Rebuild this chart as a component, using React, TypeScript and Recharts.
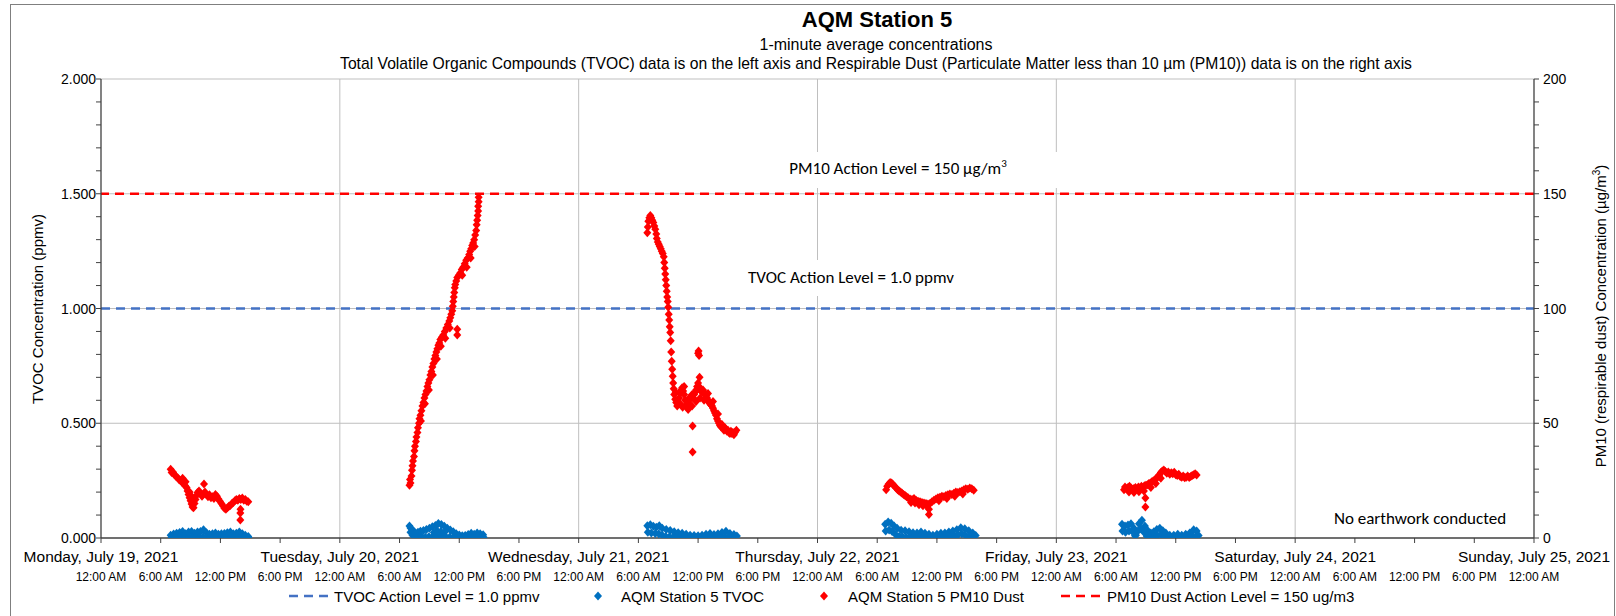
import React from 'react';
import { ScatterChart, Scatter, XAxis, YAxis, CartesianGrid, ReferenceLine } from 'recharts';

const FONT = '"Liberation Sans", Arial, sans-serif';
const CAL = 'Carlito, Lato, "Liberation Sans", sans-serif';

const chartTitle = 'AQM Station 5';
const subtitle1 = '1-minute average concentrations';
const subtitle2 = 'Total Volatile Organic Compounds (TVOC) data is on the left axis and Respirable Dust (Particulate Matter less than 10 µm (PM10)) data is on the right axis';

const dayLabels = [
  'Monday, July 19, 2021',
  'Tuesday, July 20, 2021',
  'Wednesday, July 21, 2021',
  'Thursday, July 22, 2021',
  'Friday, July 23, 2021',
  'Saturday, July 24, 2021',
  'Sunday, July 25, 2021',
];
const timeLabels = ['12:00 AM', '6:00 AM', '12:00 PM', '6:00 PM'];
const xTicks = [0, 6, 12, 18, 24, 30, 36, 42, 48, 54, 60, 66, 72, 78, 84, 90, 96, 102, 108, 114, 120, 126, 132, 138, 144];
const dayGrid = [24, 48, 72, 96, 120];
const leftTicks = [0, 0.1, 0.2, 0.3, 0.4, 0.5, 0.6, 0.7, 0.8, 0.9, 1.0, 1.1, 1.2, 1.3, 1.4, 1.5, 1.6, 1.7, 1.8, 1.9, 2.0];
const leftGrid = [0.5, 1.0, 1.5, 2.0];
const rightTicks = [0, 10, 20, 30, 40, 50, 60, 70, 80, 90, 100, 110, 120, 130, 140, 150, 160, 170, 180, 190, 200];

const tvocActionLevel = 1.0;
const pm10ActionLevel = 150;

// [hours since Monday 12:00 AM, TVOC ppmv]
const tvocMon: [number, number][] = [
  [7.0, 0.012], [7.3, 0.017], [7.6, 0.021], [7.9, 0.024], [8.2, 0.028], [8.5, 0.019], [8.8, 0.026], [9.1, 0.028],
  [9.4, 0.021], [9.7, 0.026], [10.0, 0.028], [10.3, 0.036], [10.6, 0.023], [10.9, 0.016], [11.2, 0.019], [11.5, 0.022],
  [11.8, 0.016], [12.1, 0.018], [12.4, 0.020], [12.7, 0.023], [13.0, 0.026], [13.3, 0.019], [13.6, 0.021], [13.9, 0.026],
  [14.2, 0.019], [14.5, 0.012], [14.8, 0.006],
  [7.1, 0.003], [7.45, 0.004], [7.8, 0.002], [8.15, 0.004], [8.5, 0.003], [8.85, 0.005], [9.2, 0.003], [9.55, 0.004],
  [9.9, 0.002], [10.25, 0.004], [10.6, 0.003], [10.95, 0.004], [11.3, 0.002], [11.65, 0.003], [12.0, 0.004], [12.35, 0.002],
  [12.7, 0.003], [13.05, 0.004], [13.4, 0.003], [13.75, 0.002], [14.1, 0.004], [14.45, 0.003], [14.8, 0.002],
];
const tvocTue: [number, number][] = [
  [31.0, 0.052], [31.1, 0.044], [31.25, 0.037], [31.4, 0.030], [31.6, 0.022], [31.85, 0.025], [32.1, 0.029], [32.4, 0.033],
  [32.7, 0.037], [33.0, 0.043], [33.3, 0.049], [33.6, 0.055], [33.9, 0.063], [34.2, 0.059], [34.5, 0.051], [34.8, 0.043],
  [35.1, 0.035], [35.4, 0.027], [35.7, 0.019], [36.0, 0.013], [36.3, 0.010], [36.6, 0.011], [36.9, 0.015], [37.2, 0.021],
  [37.5, 0.016], [37.8, 0.022], [38.1, 0.018], [38.4, 0.014],
  [31.1, 0.025], [31.3, 0.012], [31.55, 0.004], [31.9, 0.003], [32.25, 0.004], [32.6, 0.003], [32.95, 0.005], [33.3, 0.004],
  [33.65, 0.003], [34.0, 0.005], [34.35, 0.004], [34.7, 0.003], [35.05, 0.004], [35.4, 0.002], [35.75, 0.003], [36.1, 0.002],
  [36.45, 0.003], [36.8, 0.002], [37.15, 0.003], [37.5, 0.002], [37.85, 0.003], [38.2, 0.002], [38.45, 0.003],
  [33.45, 0.024], [33.8, 0.030], [34.15, 0.028], [34.5, 0.024],
];
const tvocWed: [number, number][] = [
  [54.9, 0.053], [55.2, 0.058], [55.5, 0.051], [55.8, 0.047], [56.1, 0.053], [56.4, 0.043], [56.8, 0.037], [57.2, 0.033],
  [57.6, 0.027], [58.0, 0.023], [58.4, 0.021], [58.8, 0.016], [59.2, 0.012], [59.6, 0.011], [60.0, 0.010], [60.4, 0.012],
  [60.8, 0.016], [61.2, 0.020], [61.6, 0.015], [62.0, 0.019], [62.4, 0.024], [62.8, 0.029], [63.2, 0.020], [63.6, 0.015],
  [63.9, 0.009],
  [54.95, 0.025], [55.3, 0.022], [55.7, 0.020], [56.05, 0.018], [56.4, 0.012], [56.75, 0.006], [57.1, 0.004], [57.45, 0.003],
  [57.8, 0.004], [58.15, 0.002], [58.5, 0.003], [58.85, 0.002], [59.2, 0.003], [59.55, 0.002], [59.9, 0.003], [60.25, 0.002],
  [60.6, 0.003], [60.95, 0.002], [61.3, 0.003], [61.65, 0.002], [62.0, 0.003], [62.35, 0.002], [62.7, 0.003], [63.05, 0.002],
  [63.4, 0.003], [63.75, 0.002],
];
const tvocThu: [number, number][] = [
  [78.8, 0.060], [79.1, 0.070], [79.4, 0.064], [79.7, 0.052], [80.0, 0.042], [80.4, 0.034], [80.8, 0.032], [81.2, 0.027],
  [81.6, 0.023], [82.0, 0.022], [82.4, 0.026], [82.8, 0.021], [83.2, 0.016], [83.6, 0.012], [84.0, 0.016], [84.4, 0.021],
  [84.8, 0.022], [85.2, 0.026], [85.6, 0.031], [86.0, 0.036], [86.4, 0.045], [86.8, 0.040], [87.2, 0.032], [87.6, 0.022],
  [87.9, 0.011],
  [78.85, 0.030], [79.2, 0.035], [79.5, 0.028], [79.85, 0.015], [80.2, 0.006], [80.55, 0.004], [80.9, 0.003], [81.25, 0.004],
  [81.6, 0.002], [81.95, 0.003], [82.3, 0.004], [82.65, 0.002], [83.0, 0.003], [83.35, 0.002], [83.7, 0.003], [84.05, 0.002],
  [84.4, 0.004], [84.75, 0.003], [85.1, 0.004], [85.45, 0.005], [85.8, 0.008], [86.15, 0.015], [86.5, 0.018], [86.85, 0.012],
  [87.2, 0.006], [87.55, 0.003],
];
const tvocFri: [number, number][] = [
  [102.6, 0.060], [102.9, 0.052], [103.2, 0.057], [103.5, 0.062], [103.8, 0.042], [104.0, 0.012], [104.3, 0.062], [104.6, 0.077],
  [104.9, 0.052], [105.2, 0.032], [105.5, 0.022], [105.8, 0.027], [106.1, 0.037], [106.4, 0.042], [106.7, 0.032], [107.0, 0.022],
  [107.4, 0.012], [107.8, 0.012], [108.2, 0.016], [108.6, 0.012], [109.0, 0.016], [109.4, 0.022], [109.8, 0.036], [110.1, 0.030],
  [110.3, 0.011],
  [102.65, 0.030], [102.95, 0.025], [103.3, 0.030], [103.6, 0.030], [103.9, 0.010], [104.2, 0.030], [104.5, 0.040], [104.8, 0.025],
  [105.1, 0.008], [105.45, 0.004], [105.8, 0.006], [106.15, 0.012], [106.5, 0.014], [106.85, 0.006], [107.2, 0.003], [107.55, 0.002],
  [107.9, 0.003], [108.25, 0.002], [108.6, 0.003], [108.95, 0.002], [109.3, 0.004], [109.65, 0.010], [110.0, 0.006],
];

// [hours since Monday 12:00 AM, PM10 µg/m3]
const pm10Mon: [number, number][] = [
  [7.0, 30.0], [7.1, 28.5], [7.25, 28.6], [7.4, 27.5], [7.55, 26.8], [7.7, 26.2], [7.85, 25.4], [8.0, 25.0], [8.15, 24.2],
  [8.3, 23.8], [8.45, 22.8], [8.6, 22.0], [8.7, 20.5], [8.8, 19.0], [8.9, 17.5], [9.0, 16.2], [9.1, 14.8], [9.2, 13.5],
  [9.3, 13.2], [9.4, 15.0], [9.5, 16.8], [9.6, 18.5], [9.7, 19.8], [9.85, 20.5], [10.0, 19.5], [10.15, 18.2], [10.35, 23.5],
  [10.3, 19.2], [10.45, 20.0], [10.6, 19.0], [10.75, 18.0], [10.9, 18.8], [11.05, 17.5], [11.2, 18.0], [11.35, 17.2],
  [11.5, 19.0], [11.65, 18.2], [11.8, 17.0], [11.95, 16.0], [12.1, 15.0], [12.25, 14.0], [12.4, 13.0], [12.55, 12.5],
  [12.7, 13.2], [12.85, 13.8], [13.0, 14.2], [13.15, 15.0], [13.3, 15.5], [13.45, 16.2], [13.6, 16.8], [13.75, 16.5],
  [13.9, 17.2], [14.05, 16.8], [14.2, 17.4], [14.35, 16.5], [14.5, 16.8], [14.65, 16.0], [14.8, 15.8], [14.0, 10.9],
  [14.0, 7.8], [14.02, 12.5], [8.9, 20.0], [9.1, 18.2], [9.3, 16.5], [8.5, 24.5], [8.2, 26.0],
];
const pm10Tue: [number, number][] = [
  [31.0, 23.0], [31.05, 25.5], [31.1, 24.0], [31.2, 27.0], [31.25, 29.5], [31.3, 31.5], [31.35, 33.5], [31.45, 35.5],
  [31.5, 38.0], [31.55, 40.0], [31.65, 42.0], [31.7, 44.0], [31.8, 46.0], [31.85, 48.0], [31.95, 50.0], [32.0, 52.0],
  [32.1, 53.5], [32.2, 55.5], [32.3, 57.5], [32.4, 59.0], [32.5, 61.0], [32.6, 62.5], [32.7, 64.0], [32.8, 66.0],
  [32.9, 67.5], [33.0, 69.0], [33.1, 71.0], [33.2, 72.5], [33.3, 74.5], [33.4, 76.0], [33.5, 78.0], [33.6, 79.5],
  [33.7, 81.0], [33.8, 82.5], [33.9, 84.0], [34.0, 85.0], [34.1, 86.5], [34.25, 87.5], [34.4, 88.5], [34.55, 90.0],
  [34.7, 91.5], [34.85, 93.0], [35.0, 94.5], [35.1, 96.0], [35.2, 97.5], [35.3, 99.0], [35.35, 101.0], [35.4, 103.0],
  [35.45, 105.0], [35.5, 107.0], [35.55, 109.0], [35.6, 110.5], [35.7, 112.0], [35.8, 113.5], [35.95, 114.5], [36.1, 115.5],
  [36.25, 117.0], [36.4, 118.0], [36.55, 119.5], [36.7, 121.0], [36.85, 122.0], [37.0, 123.5], [37.1, 125.0], [37.2, 126.0],
  [37.3, 127.5], [37.4, 128.5], [37.5, 130.0], [37.6, 132.0], [37.7, 134.0], [37.75, 136.5], [37.8, 138.5], [37.85, 140.5],
  [37.9, 142.5], [37.9, 144.5], [37.95, 146.5], [37.95, 148.5], [35.8, 88.5], [35.8, 91.0],
  [32.15, 51.0], [32.55, 58.5], [32.95, 64.5], [33.35, 71.0], [33.75, 78.0], [34.15, 83.5], [34.6, 87.0], [35.05, 91.5],
  [36.3, 114.5], [36.75, 118.0], [37.15, 122.0], [37.55, 127.0],
];
const pm10Wed: [number, number][] = [
  [54.9, 133.0], [54.95, 135.5], [55.0, 138.0], [55.1, 139.5], [55.2, 140.5], [55.3, 139.5], [55.4, 138.5], [55.5, 137.5],
  [55.6, 136.0], [55.7, 134.5], [55.8, 132.5], [55.85, 130.5], [55.95, 129.0], [56.05, 128.0], [56.15, 127.0], [56.25, 126.0],
  [56.35, 125.0], [56.45, 124.0], [56.55, 122.5], [56.6, 120.0], [56.65, 117.5], [56.7, 115.0], [56.75, 112.5], [56.8, 110.0],
  [56.85, 107.5], [56.9, 105.0], [56.95, 103.0], [57.0, 100.5], [57.05, 97.5], [57.1, 95.0], [57.15, 92.0], [57.2, 89.5],
  [57.25, 86.0], [57.3, 81.0], [57.35, 77.0], [57.4, 73.5], [57.45, 70.5], [57.5, 67.5], [57.55, 65.0], [57.6, 62.5],
  [57.7, 60.5], [57.8, 59.0], [57.9, 57.5], [58.0, 59.0], [58.1, 61.0], [58.2, 63.0], [58.3, 64.5], [58.4, 65.5],
  [58.5, 64.0], [58.6, 62.5], [58.7, 60.0], [58.8, 58.0], [58.9, 57.0], [59.0, 59.0], [59.1, 61.0], [59.2, 60.5],
  [59.3, 61.5], [59.4, 62.5], [59.5, 61.0], [59.6, 62.5], [59.7, 63.5], [59.8, 64.5], [59.9, 66.0], [60.0, 67.5],
  [60.1, 66.0], [60.2, 65.0], [60.3, 64.0], [60.4, 63.5], [60.5, 64.5], [60.6, 63.5], [60.7, 62.5], [60.8, 62.0],
  [60.9, 61.0], [61.0, 60.0], [61.1, 59.0], [61.2, 58.5], [61.3, 58.0], [61.4, 57.5], [61.5, 56.5], [61.6, 55.5],
  [61.7, 54.5], [61.8, 53.5], [61.9, 52.0], [62.0, 51.0], [62.1, 50.0], [62.2, 49.0], [62.3, 48.5], [62.4, 49.5],
  [62.5, 48.0], [62.6, 47.0], [62.7, 48.0], [62.8, 47.5], [62.9, 46.5], [63.0, 47.0], [63.1, 46.0], [63.2, 45.5],
  [63.3, 46.5], [63.4, 45.5], [63.5, 46.0], [63.6, 45.0], [63.7, 46.0], [63.85, 47.0],
  [59.45, 48.8], [59.45, 37.5], [60.05, 81.5], [60.1, 79.5], [60.0, 80.5],
  [57.75, 63.5], [58.2, 58.5], [58.45, 57.0], [58.6, 66.0], [59.0, 56.0], [59.4, 57.5], [59.8, 59.5], [60.2, 61.0],
  [60.15, 70.0], [60.6, 60.0], [61.0, 63.0], [61.5, 59.5], [62.0, 54.0],
];
const pm10Thu: [number, number][] = [
  [78.9, 21.0], [79.0, 22.5], [79.15, 23.5], [79.3, 24.2], [79.45, 24.0], [79.6, 23.2], [79.75, 22.5], [79.9, 21.8],
  [80.05, 21.0], [80.2, 20.5], [80.35, 20.0], [80.5, 19.5], [80.65, 19.0], [80.8, 18.5], [80.95, 18.0], [81.1, 17.5],
  [81.3, 17.0], [81.5, 16.8], [81.7, 17.2], [81.9, 16.5], [82.1, 16.0], [82.3, 15.8], [82.5, 15.5], [82.7, 15.2],
  [82.9, 15.0], [83.1, 14.8], [83.2, 12.5], [83.2, 10.2], [83.3, 15.0], [83.5, 15.8], [83.7, 16.5], [83.9, 17.0],
  [84.1, 17.5], [84.3, 17.8], [84.5, 18.2], [84.7, 18.0], [84.9, 18.5], [85.1, 18.8], [85.3, 19.2], [85.5, 19.0],
  [85.7, 19.5], [85.9, 20.0], [86.1, 19.8], [86.3, 20.2], [86.5, 20.5], [86.7, 21.0], [86.9, 21.5], [87.1, 21.2],
  [87.3, 21.8], [87.5, 21.5], [87.7, 20.8],
  [81.4, 15.5], [81.8, 15.2], [82.2, 14.5], [82.6, 14.0], [83.0, 13.8], [84.2, 16.2], [85.0, 17.2], [85.8, 18.2], [86.6, 19.2],
];
const pm10Fri: [number, number][] = [
  [102.8, 21.0], [102.9, 22.2], [103.05, 21.5], [103.2, 22.0], [103.35, 22.5], [103.5, 21.8], [103.65, 21.2], [103.8, 21.6],
  [103.95, 22.0], [104.1, 21.4], [104.25, 22.2], [104.4, 21.8], [104.55, 22.5], [104.7, 22.0], [104.85, 22.8], [104.95, 17.4],
  [104.95, 13.5], [105.0, 23.0], [105.15, 23.2], [105.3, 23.8], [105.45, 24.0], [105.6, 24.5], [105.75, 25.0], [105.9, 25.2],
  [106.05, 26.0], [106.2, 26.8], [106.35, 27.5], [106.5, 28.5], [106.65, 29.2], [106.8, 29.6], [106.95, 29.0], [107.1, 28.2],
  [107.25, 28.8], [107.4, 27.8], [107.55, 28.4], [107.7, 28.0], [107.85, 28.6], [108.0, 27.6], [108.15, 27.2], [108.3, 27.8],
  [108.45, 26.8], [108.6, 26.5], [108.75, 27.0], [108.9, 26.2], [109.05, 26.5], [109.2, 27.0], [109.35, 26.4], [109.5, 26.8],
  [109.65, 27.2], [109.8, 27.6], [109.95, 28.0], [110.1, 27.4],
  [103.3, 20.0], [103.8, 19.8], [104.3, 20.2], [104.8, 20.5], [105.5, 22.0], [106.0, 23.8], [106.5, 26.0],
];

const toPts = (arr: [number, number][]) => arr.map(([t, v]) => ({ t, v }));
const tvocData = toPts([...tvocMon, ...tvocTue, ...tvocWed, ...tvocThu, ...tvocFri]);
const pm10Data = toPts([...pm10Mon, ...pm10Tue, ...pm10Wed, ...pm10Thu, ...pm10Fri]);

const BLUE = '#0070C0';
const RED = '#FF0000';
const ACT_BLUE = '#4472C4';
const AXIS = '#404040';
const GRID = '#BFBFBF';

const Diamond = (props: any) => {
  const { cx, cy, fill } = props;
  if (cx == null || cy == null) return <g />;
  return <path d={`M${cx},${cy - 4.5}L${cx + 4},${cy}L${cx},${cy + 4.5}L${cx - 4},${cy}Z`} fill={fill} />;
};

const XTick = (props: any) => {
  const { x, y, payload } = props;
  const t = payload.value as number;
  const idx = Math.round(t / 6);
  const isDay = idx % 4 === 0;
  return (
    <g>
      {isDay ? (
        <text x={x} y={y + 13} textAnchor="middle" dominantBaseline="central" fill="#000" style={{ fontFamily: FONT, fontSize: 15.5 }}>
          {dayLabels[idx / 4]}
        </text>
      ) : null}
      <text x={x} y={y + 34} textAnchor="middle" dominantBaseline="central" fill="#000" style={{ fontFamily: FONT, fontSize: 12 }}>
        {timeLabels[idx % 4]}
      </text>
    </g>
  );
};

const LeftTick = (props: any) => {
  const { x, y, payload } = props;
  const v = payload.value as number;
  if (Math.abs(v * 2 - Math.round(v * 2)) > 1e-6) return <g />;
  return (
    <text x={x} y={y} textAnchor="end" dominantBaseline="central" fill="#000" style={{ fontFamily: FONT, fontSize: 14 }}>
      {v.toFixed(3)}
    </text>
  );
};

const RightTick = (props: any) => {
  const { x, y, payload } = props;
  const v = payload.value as number;
  if (v % 50 !== 0) return <g />;
  return (
    <text x={x} y={y} textAnchor="start" dominantBaseline="central" fill="#000" style={{ fontFamily: FONT, fontSize: 14 }}>
      {String(v)}
    </text>
  );
};

const abs = (o: React.CSSProperties): React.CSSProperties => ({ position: 'absolute', whiteSpace: 'nowrap', ...o });

export default function App() {
  return (
    <div style={{ position: 'absolute', left: 0, top: 0, width: 1616, height: 616, overflow: 'hidden', background: '#fff', fontFamily: FONT }}>
      <div style={abs({ left: 10, top: 4, width: 1605, height: 700, border: '1px solid #7f7f7f', boxSizing: 'border-box' })} />
      <div style={{ position: 'absolute', left: 0, top: 0 }}>
        <ScatterChart width={1616} height={616} margin={{ top: 79, right: 0, bottom: 0, left: 0 }}>
          <CartesianGrid stroke={GRID} horizontalValues={leftGrid} verticalValues={dayGrid} strokeWidth={1} />
          <XAxis
            type="number"
            dataKey="t"
            domain={[0, 144]}
            ticks={xTicks}
            interval={0}
            height={78}
            tickSize={5}
            tickMargin={0}
            tick={<XTick />}
            axisLine={{ stroke: AXIS, strokeWidth: 1.3 }}
            tickLine={{ stroke: AXIS }}
            allowDataOverflow
          />
          <YAxis
            type="number"
            domain={[0, 2]}
            ticks={leftTicks}
            interval={0}
            width={101}
            tickSize={5}
            tickMargin={0}
            tick={<LeftTick />}
            axisLine={{ stroke: AXIS, strokeWidth: 1.3 }}
            tickLine={{ stroke: AXIS }}
            allowDataOverflow
          />
          <YAxis
            yAxisId="right"
            orientation="right"
            type="number"
            domain={[0, 200]}
            ticks={rightTicks}
            interval={0}
            width={82}
            tickSize={5}
            tickMargin={4}
            tick={<RightTick />}
            axisLine={{ stroke: AXIS, strokeWidth: 1.3 }}
            tickLine={{ stroke: AXIS }}
            allowDataOverflow
          />
          <ReferenceLine y={tvocActionLevel} stroke={ACT_BLUE} strokeWidth={2.5} strokeDasharray="9 6" />
          <ReferenceLine yAxisId="right" y={pm10ActionLevel} stroke={RED} strokeWidth={2.5} strokeDasharray="9 6" />
          <Scatter name="AQM Station 5 TVOC" data={tvocData} dataKey="v" fill={BLUE} shape={<Diamond />} isAnimationActive={false} />
          <Scatter name="AQM Station 5 PM10 Dust" data={pm10Data} dataKey="v" yAxisId="right" fill={RED} shape={<Diamond />} isAnimationActive={false} />
        </ScatterChart>
      </div>

      <div style={abs({ left: 877, top: 20, transform: 'translate(-50%,-50%)', fontSize: 22, fontWeight: 'bold' })}>{chartTitle}</div>
      <div style={abs({ left: 876, top: 45, transform: 'translate(-50%,-50%)', fontSize: 16 })}>{subtitle1}</div>
      <div style={abs({ left: 876, top: 64, transform: 'translate(-50%,-50%)', fontSize: 15.7 })}>{subtitle2}</div>

      <div style={abs({ left: 37, top: 309, transform: 'translate(-50%,-50%) rotate(-90deg)', fontSize: 15 })}>TVOC Concentration (ppmv)</div>
      <div style={abs({ left: 1600, top: 316, transform: 'translate(-50%,-50%) rotate(-90deg)', fontSize: 15 })}>
        PM10 (respirable dust) Concentration (µg/m<sup style={{ fontSize: 10 }}>3</sup>)
      </div>

      <div style={abs({ left: 738, top: 152, width: 320, height: 36, background: '#fff' })} />
      <div style={abs({ left: 898, top: 168, transform: 'translate(-50%,-50%)', fontSize: 17, fontFamily: CAL })}>
        PM10 Action Level = 150 µg/m<sup style={{ fontSize: 11 }}>3</sup>
      </div>
      <div style={abs({ left: 745, top: 260, width: 212, height: 36, background: '#fff' })} />
      <div style={abs({ left: 851, top: 277, transform: 'translate(-50%,-50%)', fontSize: 17, fontFamily: CAL })}>TVOC Action Level = 1.0 ppmv</div>
      <div style={abs({ left: 1420, top: 518, transform: 'translate(-50%,-50%)', fontSize: 17, fontFamily: CAL })}>No earthwork conducted</div>

      <svg style={abs({ left: 289, top: 594 })} width={44} height={4}>
        <line x1={0} y1={2} x2={44} y2={2} stroke={ACT_BLUE} strokeWidth={2.5} strokeDasharray="9 6" />
      </svg>
      <div style={abs({ left: 334, top: 596, transform: 'translateY(-50%)', fontSize: 15 })}>TVOC Action Level = 1.0 ppmv</div>
      <svg style={abs({ left: 593, top: 591 })} width={10} height={10}>
        <path d="M5,0.5L9,5L5,9.5L1,5Z" fill={BLUE} />
      </svg>
      <div style={abs({ left: 621, top: 596, transform: 'translateY(-50%)', fontSize: 15 })}>AQM Station 5 TVOC</div>
      <svg style={abs({ left: 819, top: 591 })} width={10} height={10}>
        <path d="M5,0.5L9,5L5,9.5L1,5Z" fill={RED} />
      </svg>
      <div style={abs({ left: 848, top: 596, transform: 'translateY(-50%)', fontSize: 15 })}>AQM Station 5 PM10 Dust</div>
      <svg style={abs({ left: 1061, top: 594 })} width={45} height={4}>
        <line x1={0} y1={2} x2={45} y2={2} stroke={RED} strokeWidth={2.5} strokeDasharray="9 6" />
      </svg>
      <div style={abs({ left: 1107, top: 596, transform: 'translateY(-50%)', fontSize: 15 })}>PM10 Dust Action Level = 150 ug/m3</div>
    </div>
  );
}
